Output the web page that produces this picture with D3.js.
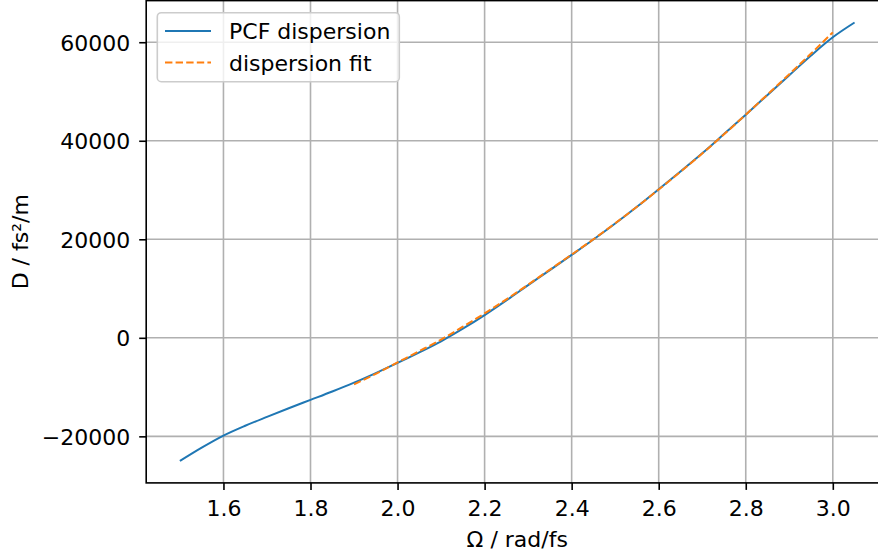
<!DOCTYPE html>
<html>

<head>
	<meta charset="utf-8">
	<title>PCF dispersion</title>
	<script src="https://d3js.org/d3.v7.min.js"></script>
	<style>
		body { margin: 0; overflow: hidden; background: #fff; }
		text { font-family: "DejaVu Sans", sans-serif; fill: #000; }
	</style>
</head>

<body>
	<script>
		// PCF dispersion (blue, solid)
		var pcfOmega = [1.50, 1.55, 1.60, 1.65, 1.70, 1.75, 1.80, 1.85, 1.90, 1.95, 2.00, 2.05, 2.10, 2.15,
			2.20, 2.25, 2.30, 2.35, 2.40, 2.45, 2.50, 2.55, 2.60, 2.65, 2.70, 2.75, 2.80, 2.85, 2.90, 2.95, 3.00, 3.05];
		var pcfD = [-25000, -22300, -19850, -17850, -16050, -14300, -12600, -10900, -9100, -7150, -5100, -2950, -700, 1850,
			4620, 7600, 10700, 13750, 16830, 19950, 23200, 26600, 30150, 33750, 37450, 41350, 45300, 49300, 53300, 57300, 61000, 64000];

		// dispersion fit (orange, dashed)
		var fitOmega = [1.90, 1.95, 2.00, 2.05, 2.10, 2.15, 2.20, 2.25, 2.30, 2.35, 2.40, 2.45, 2.50,
			2.55, 2.60, 2.65, 2.70, 2.75, 2.80, 2.85, 2.90, 2.95, 3.00];
		var fitD = [-9450, -7300, -5000, -2700, -350, 2250, 4950, 7800, 10800, 13850, 16900, 20000, 23250,
			26600, 30100, 33700, 37400, 41300, 45300, 49400, 53500, 57700, 62000];

		var xTicks = [1.6, 1.8, 2.0, 2.2, 2.4, 2.6, 2.8, 3.0];
		var yTicks = [-20000, 0, 20000, 40000, 60000];
		var seriesNames = ["PCF dispersion", "dispersion fit"];

		var width = 878
		var height = 556
		var fontSize = 22;

		//Svg Canvas
		var svg = d3.select("body")
			.append("svg")
			.attr("width", width)
			.attr("height", height);

		//Scales (matplotlib style 5% margins, right edge falls outside the picture)
		var x = d3.scaleLinear()
			.domain([1.4225, 3.1275])
			.range([146.2, 888.3]);

		var y = d3.scaleLinear()
			.domain([-29450, 68450])
			.range([482.9, 0.6]);

		// note: "top" is taken by window.top, so use plot* names
		var plotLeft = x.range()[0], plotRight = x.range()[1];
		var plotTop = y.range()[1], plotBottom = y.range()[0];

		//Grid
		var grid = svg.append("g")
			.attr("stroke", "#b0b0b0")
			.attr("stroke-width", 1.6);

		grid.selectAll("line.gx")
			.data(xTicks)
			.enter()
			.append("line")
			.attr("class", "gx")
			.attr("x1", function (d) { return x(d); })
			.attr("x2", function (d) { return x(d); })
			.attr("y1", plotTop)
			.attr("y2", plotBottom);

		grid.selectAll("line.gy")
			.data(yTicks)
			.enter()
			.append("line")
			.attr("class", "gy")
			.attr("x1", plotLeft)
			.attr("x2", plotRight)
			.attr("y1", function (d) { return y(d); })
			.attr("y2", function (d) { return y(d); });

		//Lines
		var line = d3.line()
			.x(function (d) { return x(d[0]); })
			.y(function (d) { return y(d[1]); })
			.curve(d3.curveMonotoneX);

		svg.append("path")
			.datum(d3.zip(pcfOmega, pcfD))
			.attr("fill", "none")
			.attr("stroke", "#1f77b4")
			.attr("stroke-width", 2)
			.attr("d", line);

		svg.append("path")
			.datum(d3.zip(fitOmega, fitD))
			.attr("fill", "none")
			.attr("stroke", "#ff7f0e")
			.attr("stroke-width", 2)
			.attr("stroke-dasharray", "7.4,3.2")
			.attr("d", line);

		//Axes
		var xAxis = svg.append("g")
			.attr("transform", "translate(0," + plotBottom + ")")
			.call(d3.axisBottom(x).tickValues(xTicks).tickFormat(d3.format(".1f")).tickSize(7).tickPadding(10.8));

		var yAxis = svg.append("g")
			.attr("transform", "translate(" + plotLeft + ",0)")
			.call(d3.axisLeft(y).tickValues(yTicks).tickFormat(d3.format("d")).tickSize(7).tickPadding(9));

		[xAxis, yAxis].forEach(function (a) {
			a.select(".domain").remove();
			a.selectAll(".tick line").attr("stroke", "#000").attr("stroke-width", 1.6);
			a.selectAll(".tick text")
				.attr("fill", "#000")
				.style("font-family", "'DejaVu Sans', sans-serif")
				.style("font-size", fontSize + "px");
		});
		yAxis.selectAll(".tick text").attr("dy", "0.36em");

		//Spines
		svg.append("rect")
			.attr("x", plotLeft)
			.attr("y", plotTop)
			.attr("width", plotRight - plotLeft)
			.attr("height", plotBottom - plotTop)
			.attr("fill", "none")
			.attr("stroke", "#000")
			.attr("stroke-width", 1.6);

		//Axis labels
		svg.append("text")
			.attr("x", (plotLeft + plotRight) / 2)
			.attr("y", 547)
			.attr("text-anchor", "middle")
			.style("font-size", fontSize + "px")
			.text("Ω / rad/fs");

		svg.append("text")
			.attr("transform", "translate(28," + ((plotTop + plotBottom) / 2) + ") rotate(-90)")
			.attr("text-anchor", "middle")
			.style("font-size", fontSize + "px")
			.text("D / fs²/m");

		//Legend
		var legend = svg.append("g");

		legend.append("rect")
			.attr("x", 157.3)
			.attr("y", 12.7)
			.attr("width", 242)
			.attr("height", 69)
			.attr("rx", 4)
			.attr("fill", "#fff")
			.attr("fill-opacity", 0.8)
			.attr("stroke", "#cccccc")
			.attr("stroke-width", 1.6);

		var legendStyles = [
			{ color: "#1f77b4", dash: null },
			{ color: "#ff7f0e", dash: "7.4,3.2" }
		];

		var rows = legend.selectAll("g.row")
			.data(seriesNames)
			.enter()
			.append("g")
			.attr("class", "row")
			.attr("transform", function (d, i) { return "translate(0," + (31 + i * 31.5) + ")"; });

		rows.append("line")
			.attr("x1", 165)
			.attr("x2", 211)
			.attr("stroke", function (d, i) { return legendStyles[i].color; })
			.attr("stroke-width", 2)
			.attr("stroke-dasharray", function (d, i) { return legendStyles[i].dash; });

		rows.append("text")
			.attr("x", 229)
			.attr("dy", "0.37em")
			.style("font-size", fontSize + "px")
			.text(function (d) { return d; });
	</script>
</body>

</html>
